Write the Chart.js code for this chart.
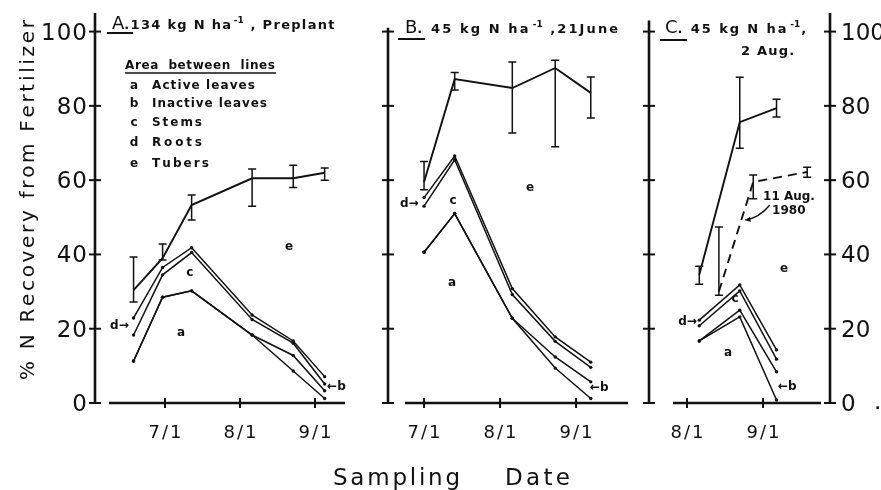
<!DOCTYPE html>
<html>
<head>
<meta charset="utf-8">
<title>% N Recovery from Fertilizer</title>
<script src="https://cdn.jsdelivr.net/npm/chart.js@4.4.1/dist/chart.umd.min.js"></script>
<style>
  html, body { margin: 0; padding: 0; background: #fff; }
  #wrap { position: relative; width: 881px; height: 490px; overflow: hidden; background: #fff; }
  #wrap canvas { position: absolute; left: 0; top: 0; }
</style>
</head>
<body>
<div id="wrap">
  <canvas id="chartA" width="881" height="490"></canvas>
  <canvas id="chartB" width="881" height="490"></canvas>
  <canvas id="chartC" width="881" height="490"></canvas>
</div>
<script>
'use strict';

// x values are days counted from 1 June (7/1 = 30, 8/1 = 61, 9/1 = 92)
const xTickDays   = [30, 61, 92];
const xTickLabels = ['7/1', '8/1', '9/1'];
const yTicks      = [0, 20, 40, 60, 80, 100];

// A. 134 kg N/ha, preplant
const daysA      = [17, 29, 41, 66, 83, 96];
const tubersA    = [30.4, 39.0, 53.3, 60.5, 60.5, 62.0];
const tubersLoA  = [27.2, 38.5, 49.3, 53.0, 58.0, 60.0];
const tubersHiA  = [39.3, 42.8, 56.0, 63.0, 64.0, 63.3];
const rootsA     = [22.9, 36.5, 41.8, 23.7, 16.7, 7.1];
const stemsA     = [18.3, 34.5, 40.5, 22.5, 16.1, 5.1];
const inactiveA  = [11.3, 28.5, 30.2, 18.3, 12.8, 3.3];
const activeA    = [11.3, 28.5, 30.2, 18.3, 8.6, 1.2];

// B. 45 kg N/ha, 21 June
const daysB      = [30, 42.5, 66, 83.5, 98];
const tubersB    = [59.5, 87.2, 84.8, 90.2, 83.5];
const tubersLoB  = [57.4, 84.3, 72.7, 69.0, 76.7];
const tubersHiB  = [65.0, 89.0, 91.8, 92.3, 87.8];
const rootsB     = [55.3, 66.5, 30.8, 17.8, 11.0];
const stemsB     = [53.0, 65.5, 29.2, 16.6, 9.6];
const inactiveB  = [40.6, 51.0, 22.8, 12.4, 5.7];
const activeB    = [40.6, 51.0, 22.8, 9.4, 1.2];

// C. 45 kg N/ha, 2 Aug (solid) and 11 Aug 1980 (dashed)
const daysC        = [66, 82.5, 97.5];
const tubersC      = [34.5, 75.6, 79.4];
const tubersLoC    = [32.0, 68.6, 77.0];
const tubersHiC    = [36.8, 87.7, 81.8];
const days1980     = [74, 88, 110];
const tubers1980   = [30.0, 59.5, 62.2];
const tubersLo1980 = [29.0, 55.0, 60.8];
const tubersHi1980 = [47.4, 61.4, 63.5];
const rootsC       = [22.3, 31.8, 14.3];
const stemsC       = [20.8, 30.2, 11.8];
const inactiveC    = [16.7, 25.0, 8.4];
const activeC      = [16.7, 23.2, 0.8];

const W = 881, H = 490;
const INK = '#111';
const FONT = '"DejaVu Sans", sans-serif';

const pts = (days, vals) => days.map((d, i) => ({ x: d, y: vals[i] }));

function boundary(days, vals) {
  return { data: pts(days, vals), borderColor: INK, borderWidth: 1.5, pointRadius: 1.7,
           pointBackgroundColor: INK, pointBorderWidth: 0 };
}
function tuberLine(days, vals, lo, hi, dash) {
  return { data: pts(days, vals), borderColor: INK, borderWidth: 1.9, pointRadius: 0,
           borderDash: dash || [], errLo: lo, errHi: hi };
}

// draw text char by char, spread to a given width (or with a fixed gap)
function spaced(ctx, text, x, y, opt) {
  const ch = [...text];
  const w = ch.map(c => ctx.measureText(c).width);
  const tot = w.reduce((a, b) => a + b, 0);
  let gap = opt.gap || 0;
  if (opt.width) gap = ch.length > 1 ? (opt.width - tot) / (ch.length - 1) : 0;
  const full = tot + gap * (ch.length - 1);
  let cx = opt.align === 'center' ? x - full / 2 : opt.align === 'right' ? x - full : x;
  ctx.textAlign = 'left';
  ch.forEach((c, i) => { ctx.fillText(c, cx, y); cx += w[i] + gap; });
  return cx;
}

function rich(ctx, x, y, parts, size, gap) {
  let cx = x;
  parts.forEach(p => {
    ctx.font = `bold ${p.sup ? Math.round(size * 0.68) : size}px ${FONT}`;
    cx = spaced(ctx, p.t, cx, p.sup ? y - size * 0.45 : y, { gap: p.sup ? 0 : gap }) + (p.sup ? 1 : gap);
  });
}

const DECOR = {
  chartA: {
    yAxes: [{ side: 'left', top: 105, labels: true }],
    xGap: [14, 0],
    title: { x: 112, y: 29, big: 'A', ul: [107, 133, 33], gap: 1.3,
             parts: [{ t: '.134 kg N ha' }, { t: '-1', sup: true }, { t: ' , Preplant' }] },
    notes: [
      { x: 40.3, y: 35.0, t: 'c' }, { x: 36.6, y: 18.8, t: 'a' }, { x: 81.3, y: 42.0, t: 'e' },
      { x: 7.3, y: 20.7, t: 'd→', left: true }, { x: 97.0, y: 4.3, t: '←b', left: true },
    ],
    legend: true, global: true,
  },
  chartB: {
    yAxes: [{ side: 'left', top: 101 }],
    xGap: [17, 2],
    title: { x: 405, y: 33, big: 'B', ul: [398, 425, 39], gap: 2.1,
             parts: [{ t: '. 45 kg N ha' }, { t: '-1', sup: true }, { t: ' ,21June' }] },
    notes: [
      { x: 73.2, y: 57.9, t: 'e' }, { x: 41.8, y: 54.4, t: 'c' }, { x: 41.4, y: 32.3, t: 'a' },
      { x: 20.2, y: 53.6, t: 'd→', left: true }, { x: 97.7, y: 4.0, t: '←b', left: true },
    ],
  },
  chartC: {
    yAxes: [{ side: 'left', top: 103 }, { side: 'right', top: 105, labels: true }],
    xGap: [24, 9],
    title: { x: 665, y: 33, big: 'C', ul: [660, 687, 40], gap: 1.9,
             parts: [{ t: '. 45 kg N ha' }, { t: '-1', sup: true }, { t: ',' }],
             line2: { x: 741, y: 55, t: '2 Aug.' } },
    notes: [
      { x: 100.6, y: 36.1, t: 'e' }, { x: 80.6, y: 28.0, t: 'c' }, { x: 77.7, y: 13.5, t: 'a' },
      { x: 57.4, y: 21.8, t: 'd→', left: true }, { x: 98.1, y: 4.3, t: '←b', left: true },
      { x: 92.0, y: 55.4, t: '11 Aug.', left: true }, { x: 95.7, y: 51.6, t: '1980', left: true },
    ],
    arrow: { from: [94.8, 53.3], ctrl: [90.0, 49.6], to: [84.7, 49.3] },
  },
};

const decorPlugin = {
  id: 'decor',
  afterDatasetsDraw(chart) {
    const cfg = DECOR[chart.canvas.id];
    const ctx = chart.ctx, xs = chart.scales.x, ys = chart.scales.y, ca = chart.chartArea;
    ctx.save();
    ctx.strokeStyle = INK; ctx.fillStyle = INK; ctx.setLineDash([]);

    // error bars on the tuber lines
    chart.data.datasets.forEach((ds, i) => {
      if (!ds.errLo) return;
      ctx.lineWidth = 1.5;
      chart.getDatasetMeta(i).data.forEach((p, j) => {
        const y1 = ys.getPixelForValue(ds.errLo[j]), y2 = ys.getPixelForValue(ds.errHi[j]);
        ctx.beginPath();
        ctx.moveTo(p.x, y1); ctx.lineTo(p.x, y2);
        ctx.moveTo(p.x - 4, y1); ctx.lineTo(p.x + 4, y1);
        ctx.moveTo(p.x - 4, y2); ctx.lineTo(p.x + 4, y2);
        ctx.stroke();
      });
    });

    // y axes with crossing ticks
    cfg.yAxes.forEach(ax => {
      const px = ax.side === 'left' ? ca.left : ca.right;
      ctx.lineWidth = 2.6;
      ctx.beginPath(); ctx.moveTo(px, ys.getPixelForValue(0) + 1); ctx.lineTo(px, ys.getPixelForValue(ax.top)); ctx.stroke();
      ctx.lineWidth = 2;
      yTicks.forEach(v => {
        const py = ys.getPixelForValue(v);
        ctx.beginPath(); ctx.moveTo(px - 6, py); ctx.lineTo(px + 6, py); ctx.stroke();
        if (!ax.labels) return;
        ctx.font = `23px ${FONT}`;
        ctx.textBaseline = 'alphabetic';
        if (ax.side === 'left') spaced(ctx, String(v), px - 8, py + 8, { gap: 1, align: 'right' });
        else spaced(ctx, String(v), px + 11, py + 8, { gap: 0, align: 'left' });
      });
    });

    // x axis
    const by = ys.getPixelForValue(0);
    ctx.lineWidth = 2.4;
    ctx.beginPath(); ctx.moveTo(ca.left + cfg.xGap[0], by); ctx.lineTo(ca.right - cfg.xGap[1], by); ctx.stroke();
    ctx.font = `18px ${FONT}`;
    ctx.textBaseline = 'alphabetic';
    xTickDays.forEach((d, i) => {
      if (d < xs.min || d > xs.max) return;
      const px = xs.getPixelForValue(d);
      ctx.lineWidth = 2;
      ctx.beginPath(); ctx.moveTo(px, by - 5); ctx.lineTo(px, by + 5); ctx.stroke();
      spaced(ctx, xTickLabels[i], px, by + 35, { gap: 2, align: 'center' });
    });

    // panel title
    const t = cfg.title;
    ctx.font = `18px ${FONT}`;
    ctx.textAlign = 'left';
    ctx.fillText(t.big, t.x, t.y);
    const bw = ctx.measureText(t.big).width;
    ctx.lineWidth = 2;
    ctx.beginPath(); ctx.moveTo(t.ul[0], t.ul[2]); ctx.lineTo(t.ul[1], t.ul[2]); ctx.stroke();
    rich(ctx, t.x + bw, t.y, t.parts, 13, t.gap);
    if (t.line2) { ctx.font = `bold 13px ${FONT}`; spaced(ctx, t.line2.t, t.line2.x, t.line2.y, { gap: 1.2 }); }

    // letters placed between the lines
    ctx.font = `bold 12px ${FONT}`;
    ctx.textBaseline = 'middle';
    cfg.notes.forEach(n => {
      ctx.textAlign = n.left ? 'left' : 'center';
      ctx.fillText(n.t, xs.getPixelForValue(n.x), ys.getPixelForValue(n.y));
    });

    if (cfg.arrow) {
      const a = cfg.arrow;
      const P = q => [xs.getPixelForValue(q[0]), ys.getPixelForValue(q[1])];
      const [x0, y0] = P(a.from), [cx, cy] = P(a.ctrl), [x1, y1] = P(a.to);
      ctx.lineWidth = 1.4;
      ctx.beginPath(); ctx.moveTo(x0, y0); ctx.quadraticCurveTo(cx, cy, x1, y1); ctx.stroke();
      const ang = Math.atan2(y1 - cy, x1 - cx);
      ctx.beginPath();
      ctx.moveTo(x1, y1);
      ctx.lineTo(x1 - 6 * Math.cos(ang - 0.45), y1 - 6 * Math.sin(ang - 0.45));
      ctx.lineTo(x1 - 6 * Math.cos(ang + 0.45), y1 - 6 * Math.sin(ang + 0.45));
      ctx.closePath(); ctx.fill();
    }

    if (cfg.legend) {
      ctx.textBaseline = 'alphabetic';
      ctx.font = `bold 12px ${FONT}`;
      spaced(ctx, 'Area  between  lines', 125, 69, { width: 150 });
      ctx.lineWidth = 1.6;
      ctx.beginPath(); ctx.moveTo(125, 73); ctx.lineTo(276, 73); ctx.stroke();
      const items = [['a', 'Active leaves', 89, 103], ['b', 'Inactive leaves', 107, 115],
                     ['c', 'Stems', 126, 50], ['d', 'Roots', 146, 50], ['e', 'Tubers', 167, 57]];
      items.forEach(([k, txt, y, w]) => {
        ctx.textAlign = 'center'; ctx.fillText(k, 134, y);
        spaced(ctx, txt, 152, y, { width: w });
      });
    }

    if (cfg.global) {
      ctx.textBaseline = 'alphabetic';
      ctx.save();
      ctx.translate(34, 200);
      ctx.rotate(-Math.PI / 2);
      ctx.font = `20px ${FONT}`;
      spaced(ctx, '% N Recovery from Fertilizer', 0, 0, { width: 360, align: 'center' });
      ctx.restore();
      ctx.font = `23px ${FONT}`;
      spaced(ctx, 'Sampling', 333, 485, { width: 127 });
      spaced(ctx, 'Date', 505, 485, { width: 65 });
      ctx.font = `bold 14px ${FONT}`;
      ctx.fillText('.', 875, 409);
    }
    ctx.restore();
  },
};

function makePanel(id, left, right, xMin, xMax, datasets) {
  return new Chart(document.getElementById(id), {
    type: 'line',
    data: { datasets },
    options: {
      responsive: false, animation: false, events: [],
      layout: { padding: { left, right: W - right, top: 13, bottom: H - 403 } },
      elements: { line: { tension: 0 } },
      scales: {
        x: { type: 'linear', display: false, min: xMin, max: xMax },
        y: { type: 'linear', display: false, min: 0, max: 105 },
      },
      plugins: { legend: { display: false }, tooltip: { enabled: false } },
    },
    plugins: [decorPlugin],
  });
}

makePanel('chartA', 95, 345, 1.06, 104.4, [
  tuberLine(daysA, tubersA, tubersLoA, tubersHiA),
  boundary(daysA, rootsA), boundary(daysA, stemsA),
  boundary(daysA, inactiveA), boundary(daysA, activeA),
]);

makePanel('chartB', 388, 630, 15.3, 114, [
  tuberLine(daysB, tubersB, tubersLoB, tubersHiB),
  boundary(daysB, rootsB), boundary(daysB, stemsB),
  boundary(daysB, inactiveB), boundary(daysB, activeB),
]);

makePanel('chartC', 649, 830, 45.5, 119.3, [
  tuberLine(daysC, tubersC, tubersLoC, tubersHiC),
  tuberLine(days1980, tubers1980, tubersLo1980, tubersHi1980, [9, 6]),
  boundary(daysC, rootsC), boundary(daysC, stemsC),
  boundary(daysC, inactiveC), boundary(daysC, activeC),
]);
</script>
</body>
</html>
